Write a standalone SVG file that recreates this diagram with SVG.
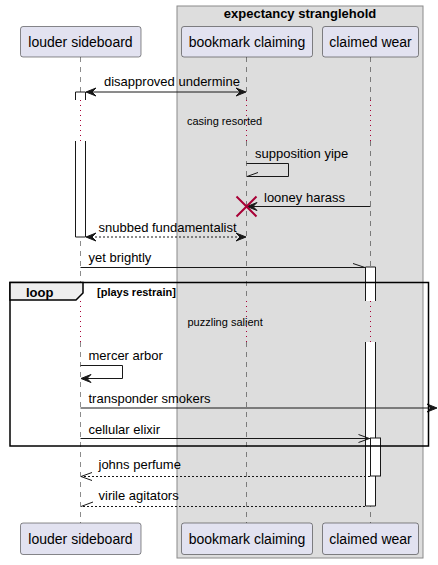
<svg xmlns="http://www.w3.org/2000/svg" width="438" height="565" viewBox="0 0 438 565">
<defs>
<style>
.part rect{fill:#E2E2F0;stroke:#181818;stroke-width:0.5}
.pt{font-family:"Liberation Sans",Arial,sans-serif;font-size:14px;fill:#000;text-anchor:middle}
.msg{font-family:"Liberation Sans",Arial,sans-serif;font-size:13px;fill:#000}
.small{font-family:"Liberation Sans",Arial,sans-serif;font-size:11px;fill:#000}
.life{stroke:#181818;stroke-width:0.5;stroke-dasharray:5,5;fill:none}
.delay{stroke:#A80036;stroke-width:1;stroke-dasharray:1,4;fill:none}
.act{fill:#fff;stroke:none}
.actl{fill:none;stroke:#181818;stroke-width:1}
.ln{stroke:#181818;stroke-width:1;fill:none}
.dl{stroke:#181818;stroke-width:1;fill:none;stroke-dasharray:2,2}
.head{fill:#181818;stroke:#181818;stroke-width:1}
</style>
</defs>
<g id="box-expectancy">
<rect x="177" y="6" width="246" height="552" fill="#DDDDDD" stroke="#8a8a8a" stroke-width="1"/>
<text x="300" y="18" font-family="Liberation Sans,Arial,sans-serif" font-size="13" font-weight="bold" text-anchor="middle">expectancy stranglehold</text>
</g>
<g id="lifelines">
<path class="life" d="M80.5,57V100M80.5,141V301M80.5,342V523"/>
<path class="life" d="M246.5,57V100M246.5,141V301M246.5,342V523"/>
<path class="life" d="M370.5,57V100M370.5,141V301M370.5,342V523"/>
<path class="delay" d="M80.5,100V141M246.5,100V141M370.5,100V141M80.5,301V342M246.5,301V342M370.5,301V342"/>
</g>
<g id="activations">
<rect class="act" x="75.5" y="92" width="10" height="8"/>
<path class="actl" d="M75.5,100V92H85.5V100"/>
<rect class="act" x="75.5" y="141" width="10" height="96"/>
<path class="actl" d="M75.5,141V237H85.5V141"/>
<rect class="act" x="365.5" y="267" width="10" height="34"/>
<path class="actl" d="M365.5,301V267H375.5V301"/>
<rect class="act" x="365.5" y="342" width="10" height="164"/>
<path class="actl" d="M365.5,342V506H375.5V342"/>
<rect x="370.5" y="438" width="10" height="38" fill="#fff" stroke="#181818" stroke-width="1"/>
</g>
<g id="part-louder-top" class="part"><rect x="20.5" y="26.5" width="120.5" height="30.5" rx="2.5"/><text class="pt" x="80.5" y="47">louder sideboard</text></g>
<g id="part-bookmark-top" class="part"><rect x="181.5" y="26.5" width="131" height="30.5" rx="2.5"/><text class="pt" x="247" y="47">bookmark claiming</text></g>
<g id="part-claimed-top" class="part"><rect x="322.5" y="26.5" width="96" height="30.5" rx="2.5"/><text class="pt" x="370.5" y="47">claimed wear</text></g>
<g id="part-louder-bottom" class="part"><rect x="20.5" y="523" width="120.5" height="31.5" rx="2.5"/><text class="pt" x="80.5" y="544">louder sideboard</text></g>
<g id="part-bookmark-bottom" class="part"><rect x="181.5" y="523" width="131" height="31.5" rx="2.5"/><text class="pt" x="247" y="544">bookmark claiming</text></g>
<g id="part-claimed-bottom" class="part"><rect x="322.5" y="523" width="96" height="31.5" rx="2.5"/><text class="pt" x="370.5" y="544">claimed wear</text></g>
<g id="connectors">
<!-- disapproved undermine -->
<line class="ln" x1="87" y1="92" x2="245" y2="92"/>
<polygon class="head" points="86,92 96,88 92,92 96,96"/>
<polygon class="head" points="246,92 236,88 240,92 236,96"/>
<text class="msg" x="104" y="86">disapproved undermine</text>
<!-- delay -->
<text class="small" x="187" y="125">casing resorted</text>
<!-- supposition yipe -->
<path class="ln" d="M246.5,163.5H288.5V176.5H246.5"/>
<line class="ln" x1="247" y1="176.5" x2="258" y2="172.5"/>
<text class="msg" x="255" y="158">supposition yipe</text>
<!-- looney harass -->
<line class="ln" x1="370.5" y1="206.5" x2="249" y2="206.5"/>
<polygon class="head" points="247,206.5 257,202.5 253,206.5 257,210.5"/>
<text class="msg" x="264" y="202">looney harass</text>
<path d="M236.5,196.5L256.5,216.5M236.5,216.5L256.5,196.5" stroke="#A80036" stroke-width="2" fill="none"/>
<!-- snubbed fundamentalist -->
<line class="dl" x1="87" y1="237" x2="245" y2="237"/>
<polygon class="head" points="86,237 96,233 92,237 96,241"/>
<polygon class="head" points="246,237 236,233 240,237 236,241"/>
<text class="msg" x="98.5" y="232">snubbed fundamentalist</text>
<!-- yet brightly -->
<line class="ln" x1="80.5" y1="267.5" x2="365" y2="267.5"/>
<line class="ln" x1="353" y1="263.5" x2="365" y2="267.5"/>
<text class="msg" x="88.5" y="262">yet brightly</text>
<!-- delay -->
<text class="small" x="187.5" y="326">puzzling salient</text>
<!-- mercer arbor -->
<path class="ln" d="M80.5,365.5H122.5V378.5H82"/>
<polygon class="head" points="81,378.5 91,374.5 87,378.5 91,382.5"/>
<text class="msg" x="88.5" y="360">mercer arbor</text>
<!-- transponder smokers -->
<line class="ln" x1="80.5" y1="408" x2="433" y2="408"/>
<polygon class="head" points="437,408 427,404 431,408 427,412"/>
<text class="msg" x="88.5" y="403">transponder smokers</text>
<!-- cellular elixir -->
<line class="ln" x1="80.5" y1="438.5" x2="370" y2="438.5"/>
<path class="ln" d="M358.5,434.5L369.5,438.5L358.5,442.5"/>
<text class="msg" x="88.5" y="434">cellular elixir</text>
<!-- johns perfume -->
<line class="dl" x1="370" y1="476.5" x2="81" y2="476.5"/>
<path class="ln" d="M92,472.5L81,476.5L92,480.5"/>
<text class="msg" x="98.5" y="469">johns perfume</text>
<!-- virile agitators -->
<line class="dl" x1="365" y1="506.5" x2="81" y2="506.5"/>
<line class="ln" x1="81" y1="506.5" x2="93" y2="502"/>
<text class="msg" x="98.5" y="500">virile agitators</text>
</g>
<g id="loop">
<rect x="10" y="282.5" width="418.5" height="163.5" fill="none" stroke="#000" stroke-width="1.5"/>
<path d="M10,282.5H83V293L76,300H10Z" fill="#EEEEEE" stroke="#000" stroke-width="1.5"/>
<text x="26" y="297" font-family="Liberation Sans,Arial,sans-serif" font-size="13" font-weight="bold">loop</text>
<text x="97" y="296" font-family="Liberation Sans,Arial,sans-serif" font-size="11" font-weight="bold">[plays restrain]</text>
</g>
</svg>
